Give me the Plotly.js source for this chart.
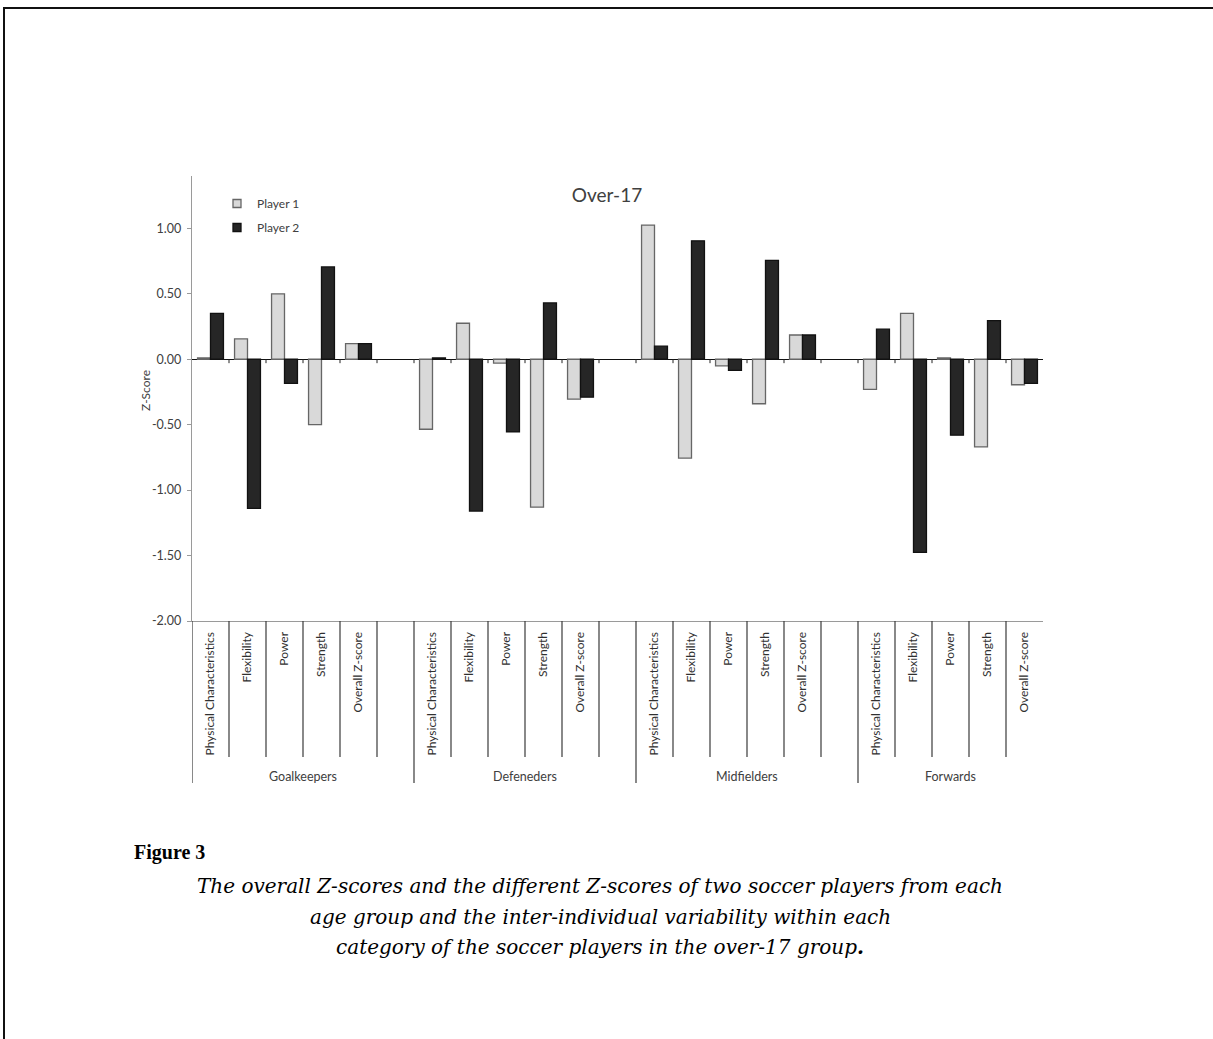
<!DOCTYPE html>
<html>
<head>
<meta charset="utf-8">
<script src="https://cdn.plot.ly/plotly-3.0.1.min.js"></script>
<style>
  html, body { margin: 0; padding: 0; background: #fff; }
  #frame { position: absolute; left: 3px; top: 7px; width: 1210px; height: 1032px;
           border-top: 2px solid #111; border-left: 2px solid #111; box-sizing: border-box; pointer-events: none; }
  #chart { position: absolute; left: 0; top: 0; width: 1213px; height: 1039px; }
</style>
</head>
<body>
<div id="chart"></div>
<div id="frame"></div>
<script>
// ---- data ----
const groups = ["Goalkeepers", "Defeneders", "Midfielders", "Forwards"];
const measures = ["Physical Characteristics", "Flexibility", "Power", "Strength", "Overall Z-score"];
const player1 = [0.01, 0.155, 0.50, -0.50, 0.12,
                 -0.535, 0.275, -0.03, -1.13, -0.305,
                 1.025, -0.755, -0.05, -0.34, 0.185,
                 -0.23, 0.35, 0.01, -0.67, -0.195];
const player2 = [0.35, -1.14, -0.185, 0.705, 0.12,
                 0.01, -1.16, -0.555, 0.43, -0.29,
                 0.10, 0.905, -0.085, 0.755, 0.185,
                 0.23, -1.475, -0.58, 0.295, -0.185];
const yTickVals = [-2, -1.5, -1, -0.5, 0, 0.5, 1];
const yTickText = ["-2.00", "-1.50", "-1.00", "-0.50", "0.00", "0.50", "1.00"];
const chartTitle = "Over-17";
const yTitle = "Z-Score";
const seriesNames = ["Player 1", "Player 2"];
const figLabel = "Figure 3";
const captionLines = [
  "The overall Z-scores and the different Z-scores of two soccer players from each",
  "age group and the inter-individual variability within each",
  "category of the soccer players in the over-17 group<b>.</b>"
];

// ---- build category keys (with a blank spacer after each group but the last) ----
const allKeys = [], allLabels = [], barKeys = [], groupSpans = [];
groups.forEach((g, gi) => {
  const start = allKeys.length;
  measures.forEach(m => { const k = g + "|" + m; allKeys.push(k); allLabels.push(m); barKeys.push(k); });
  if (gi < groups.length - 1) { allKeys.push(g + "| "); allLabels.push(""); }
  groupSpans.push([start, allKeys.length - 1]);
});

// pixel helpers for the plot area (l=192, t=176, w=851, h=445)
const L = 192, T = 176, PW = 851, PH = 445;
const pxX = p => (p - L) / PW;
const pxY = p => (T + PH - p) / PH;

const FONT = "Lato, sans-serif";
const c1 = { fill: "#d9d9d9", line: "#666666" };
const c2 = { fill: "#262626", line: "#111111" };

const traces = [
  { type: "bar", name: seriesNames[0], x: barKeys, y: player1, showlegend: false,
    marker: { color: c1.fill, line: { color: c1.line, width: 1.3 } } },
  { type: "bar", name: seriesNames[1], x: barKeys, y: player2, showlegend: false,
    marker: { color: c2.fill, line: { color: c2.line, width: 1.3 } } },
  // legend entries (small square keys like the original)
  { type: "scatter", mode: "markers", name: seriesNames[0], x: [null], y: [null], legendgroup: "a",
    marker: { symbol: "square", size: 8, color: c1.fill, line: { color: c1.line, width: 1.3 } } },
  { type: "scatter", mode: "markers", name: seriesNames[1], x: [null], y: [null], legendgroup: "b",
    marker: { symbol: "square", size: 8, color: c2.fill, line: { color: c2.line, width: 1.3 } } }
];

const shapes = [];
const groupStarts = groupSpans.map(s => s[0]);
for (let i = 0; i < allKeys.length; i++) {
  const isGroup = groupStarts.includes(i);
  shapes.push({ type: "line", xref: "x", yref: "paper", x0: i - 0.5, x1: i - 0.5,
                y0: 0, y1: isGroup ? pxY(783) : pxY(757),
                line: { color: "#3a3a3a", width: 1.2 } });
  if (i > 0) {
    shapes.push({ type: "line", xref: "x", yref: "y", x0: i - 0.5, x1: i - 0.5,
                  y0: 0, y1: -0.03, line: { color: "#222", width: 1 } });
  }
}

const annotations = [];
groupSpans.forEach((s, gi) => {
  annotations.push({ xref: "x", yref: "paper", x: (s[0] + s[1]) / 2, y: pxY(776),
                     text: groups[gi], showarrow: false, xanchor: "center", yanchor: "middle",
                     font: { family: FONT, size: 12.5, color: "#404040" } });
});
annotations.push({ xref: "paper", yref: "paper", x: pxX(132), y: pxY(852), text: "<b>" + figLabel + "</b>",
                   showarrow: false, xanchor: "left", yanchor: "middle",
                   font: { family: "Liberation Serif, serif", size: 20, color: "#000" } });
const capY = [886, 917, 947];
captionLines.forEach((t, i) => {
  annotations.push({ xref: "paper", yref: "paper", x: pxX(600), y: pxY(capY[i]), text: "<i>" + t + "</i>",
                     showarrow: false, xanchor: "center", yanchor: "middle",
                     font: { family: "DejaVu Serif, serif", size: 20, color: "#000" } });
});
// y-axis title placed as in the original
annotations.push({ xref: "paper", yref: "paper", x: pxX(145), y: pxY(391), text: yTitle, textangle: -90,
                   showarrow: false, xanchor: "center", yanchor: "middle",
                   font: { family: FONT, size: 12, color: "#404040" } });

const layout = {
  width: 1213, height: 1039,
  margin: { l: L, r: 1213 - L - PW, t: T, b: 1039 - T - PH, pad: 0 },
  paper_bgcolor: "#fff", plot_bgcolor: "#fff",
  barmode: "group", bargap: 0.3, bargroupgap: 0,
  title: { text: chartTitle, xref: "paper", yref: "paper", x: pxX(607), y: pxY(195),
           xanchor: "center", yanchor: "middle",
           font: { family: FONT, size: 19, color: "#404040" } },
  showlegend: true,
  legend: { x: pxX(217), y: pxY(189), xanchor: "left", yanchor: "top",
            traceorder: "grouped", tracegroupgap: 5, bgcolor: "rgba(0,0,0,0)",
            font: { family: FONT, size: 12, color: "#404040" }, itemwidth: 30 },
  xaxis: {
    type: "category", categoryorder: "array", categoryarray: allKeys,
    range: [-0.5, allKeys.length - 0.5], fixedrange: true,
    tickmode: "array", tickvals: allKeys, ticktext: allLabels, tickangle: -90,
    ticks: "", ticklabelstandoff: 5,
    tickfont: { family: FONT, size: 12, color: "#303030" },
    showline: true, linecolor: "#9a9a9a", linewidth: 1.2, mirror: false,
    showgrid: false, zeroline: false
  },
  yaxis: {
    range: [-2, 1.4], fixedrange: true,
    tickmode: "array", tickvals: yTickVals, ticktext: yTickText,
    ticks: "outside", ticklen: 4, tickcolor: "#9a9a9a", ticklabelstandoff: 3,
    tickfont: { family: FONT, size: 12.5, color: "#404040" },
    showline: true, linecolor: "#9a9a9a", linewidth: 1.2,
    showgrid: false, zeroline: true, zerolinecolor: "#111", zerolinewidth: 1.2
  },
  shapes: shapes,
  annotations: annotations
};

Plotly.newPlot("chart", traces, layout, { displayModeBar: false, staticPlot: true });
</script>
</body>
</html>
